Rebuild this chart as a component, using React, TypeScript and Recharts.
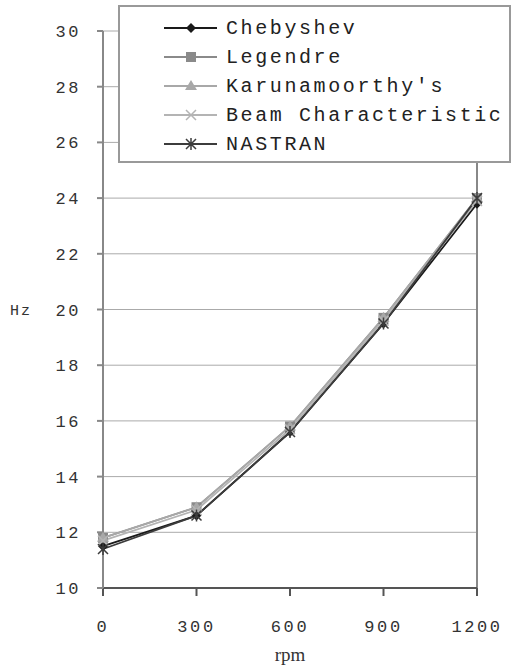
import { LineChart, Line, XAxis, YAxis, CartesianGrid, Label, ReferenceLine } from "recharts";

const rpm = [0, 300, 600, 900, 1200];
const chebyshev = [11.5, 12.6, 15.6, 19.5, 23.8];
const legendre = [11.8, 12.9, 15.8, 19.7, 24.0];
const karunamoorthy = [11.8, 12.9, 15.8, 19.7, 24.0];
const beam = [11.7, 12.8, 15.7, 19.6, 23.9];
const nastran = [11.4, 12.6, 15.6, 19.5, 24.0];
const yTicks = [10, 12, 14, 16, 18, 20, 22, 24, 26, 28, 30];
const xTicks = [0, 300, 600, 900, 1200];

const data = rpm.map((r, i) => ({
  rpm: r,
  chebyshev: chebyshev[i],
  legendre: legendre[i],
  karunamoorthy: karunamoorthy[i],
  beam: beam[i],
  nastran: nastran[i],
}));

type Kind = "diamond" | "square" | "triangle" | "x" | "star";

function Marker({ cx, cy, kind, color }: { cx: number; cy: number; kind: Kind; color: string }) {
  if (kind === "diamond")
    return <polygon points={`${cx},${cy - 5} ${cx + 5},${cy} ${cx},${cy + 5} ${cx - 5},${cy}`} fill={color} />;
  if (kind === "square") return <rect x={cx - 5} y={cy - 5} width={10} height={10} fill={color} />;
  if (kind === "triangle")
    return <polygon points={`${cx},${cy - 6} ${cx + 6},${cy + 4} ${cx - 6},${cy + 4}`} fill={color} />;
  if (kind === "x")
    return (
      <path d={`M${cx - 5},${cy - 5}L${cx + 5},${cy + 5}M${cx - 5},${cy + 5}L${cx + 5},${cy - 5}`} stroke={color} strokeWidth={1.5} />
    );
  return (
    <path
      d={`M${cx - 5},${cy - 5}L${cx + 5},${cy + 5}M${cx - 5},${cy + 5}L${cx + 5},${cy - 5}M${cx},${cy - 6}L${cx},${cy + 6}`}
      stroke={color}
      strokeWidth={1.5}
    />
  );
}

const series: { key: string; name: string; color: string; kind: Kind }[] = [
  { key: "chebyshev", name: "Chebyshev", color: "#1a1a1a", kind: "diamond" },
  { key: "legendre", name: "Legendre", color: "#8a8a8a", kind: "square" },
  { key: "karunamoorthy", name: "Karunamoorthy's", color: "#a8a8a8", kind: "triangle" },
  { key: "beam", name: "Beam Characteristic", color: "#b4b4b4", kind: "x" },
  { key: "nastran", name: "NASTRAN", color: "#3c3c3c", kind: "star" },
];

const monoTick = { fill: "#333", fontFamily: "Liberation Mono, monospace", fontSize: 17, letterSpacing: 2.6 };

// legend box drawn as one svg laid over the chart
function LegendBox() {
  return (
    <svg
      width={393}
      height={158}
      style={{ position: "absolute", left: 118, top: 5, display: "block" }}
      fontFamily="Liberation Mono, monospace"
      fontSize={20}
      letterSpacing={2.6}
    >
      <rect x={1} y={1} width={391} height={156} fill="#fff" stroke="#999" strokeWidth={2} />
      <clipPath id="lg-clip">
        <rect x={2} y={2} width={389} height={154} />
      </clipPath>
      <g clipPath="url(#lg-clip)">
        {series.map((s, i) => {
          const y = 23 + i * 29;
          return (
            <g key={s.key}>
              <line x1={46} x2={99} y1={y} y2={y} stroke={s.color} strokeWidth={2} />
              <Marker cx={73} cy={y} kind={s.kind} color={s.color} />
              <text x={108} y={y} dominantBaseline="central" fill="#222">
                {s.name}
              </text>
            </g>
          );
        })}
      </g>
    </svg>
  );
}

export default function App() {
  return (
    <div style={{ position: "relative", width: 513, height: 672 }}>
      <style>{`body{margin:0}`}</style>
      <LineChart width={513} height={672} data={data} margin={{ top: 31, right: 36, bottom: 7, left: 0 }}>
        <CartesianGrid horizontal vertical={false} stroke="#aaa" />
        <ReferenceLine x={1200} stroke="#888" strokeWidth={2} />
        <XAxis
          dataKey="rpm"
          type="number"
          domain={[0, 1200]}
          ticks={xTicks}
          height={77}
          stroke="#555"
          strokeWidth={2}
          tickSize={8}
          tickMargin={24}
          tick={monoTick}
        >
          <Label value="rpm" position="insideBottom" offset={4} fill="#333" fontFamily="Liberation Serif, serif" fontSize={19} />
        </XAxis>
        <YAxis
          type="number"
          domain={[10, 30]}
          ticks={yTicks}
          width={103}
          stroke="#888"
          strokeWidth={2}
          tickSize={6}
          tickMargin={16}
          tick={monoTick}
        >
          <Label value="Hz" position="insideLeft" offset={10} fill="#333" fontFamily="Liberation Mono, monospace" fontSize={15} letterSpacing={2} />
        </YAxis>
        {series.map((s) => (
          <Line
            key={s.key}
            dataKey={s.key}
            name={s.name}
            stroke={s.color}
            strokeWidth={1.8}
            isAnimationActive={false}
            dot={(p: any) => <Marker key={`${s.key}-${p.index}`} cx={p.cx} cy={p.cy} kind={s.kind} color={s.color} />}
          />
        ))}
      </LineChart>
      <LegendBox />
    </div>
  );
}
